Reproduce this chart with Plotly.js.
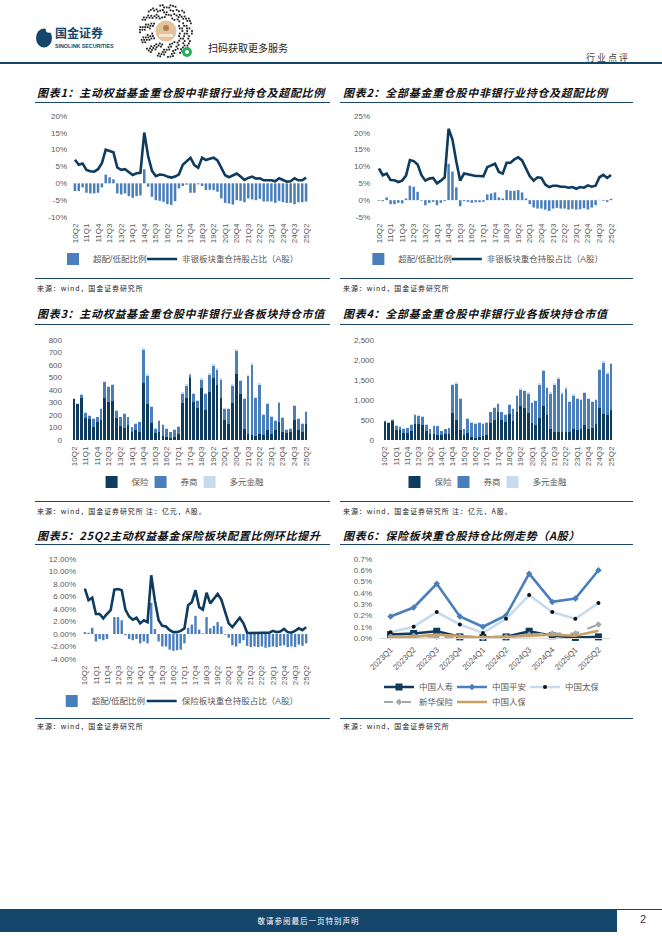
<!DOCTYPE html>
<html><head><meta charset="utf-8">
<script src="https://cdn.plot.ly/plotly-3.0.1.min.js"></script>
<style>
body{margin:0;background:#fff;}
#page{position:relative;width:662px;height:936px;overflow:hidden;background:#fff;font-family:"Noto Sans CJK SC",sans-serif;}
.abs{position:absolute;}
.ttl{position:absolute;font-size:11px;font-weight:bold;font-style:italic;color:#111;letter-spacing:0.7px;white-space:nowrap;line-height:14px;}
.rule{position:absolute;height:1px;background:#1d4567;}
.src{position:absolute;font-size:7px;color:#222;letter-spacing:0.9px;white-space:nowrap;line-height:9px;}
.chart{position:absolute;width:300px;height:170px;}
</style></head>
<body>
<div id="page">
  <svg id="hdr" class="abs" style="left:0;top:0" width="662" height="70"></svg>
  <div class="abs" style="left:208px;top:40px;font-size:10px;color:#222;white-space:nowrap;">扫码获取更多服务</div>
  <div class="abs" style="left:586px;top:51px;font-size:9px;color:#444;letter-spacing:2px;white-space:nowrap;">行业点评</div>
  <div class="abs" style="left:0;top:62px;width:662px;height:1.5px;background:#14466b;"></div>

  <div class="ttl" style="left:37px;top:85px;">图表1：主动权益基金重仓股中非银行业持仓及超配比例</div>
  <div class="ttl" style="left:343px;top:85px;">图表2：全部基金重仓股中非银行业持仓及超配比例</div>
  <div class="rule" style="left:35px;top:102px;width:295px;"></div>
  <div class="rule" style="left:340px;top:102px;width:293px;"></div>
  <div id="c1" class="chart" style="left:30px;top:105px;"></div>
  <div id="c2" class="chart" style="left:335px;top:105px;"></div>
  <div class="rule" style="left:35px;top:278px;width:295px;"></div>
  <div class="rule" style="left:340px;top:278px;width:293px;"></div>
  <div class="src" style="left:37px;top:284px;">来源：wind，国金证券研究所</div>
  <div class="src" style="left:343px;top:284px;">来源：wind，国金证券研究所</div>

  <div class="ttl" style="left:37px;top:306px;">图表3：主动权益基金重仓股中非银行业各板块持仓市值</div>
  <div class="ttl" style="left:343px;top:306px;">图表4：全部基金重仓股中非银行业各板块持仓市值</div>
  <div class="rule" style="left:35px;top:324px;width:295px;"></div>
  <div class="rule" style="left:340px;top:324px;width:293px;"></div>
  <div id="c3" class="chart" style="left:30px;top:330px;"></div>
  <div id="c4" class="chart" style="left:335px;top:330px;"></div>
  <div class="rule" style="left:35px;top:501px;width:295px;"></div>
  <div class="rule" style="left:340px;top:501px;width:293px;"></div>
  <div class="src" style="left:37px;top:507px;">来源：wind，国金证券研究所 注：亿元，A股。</div>
  <div class="src" style="left:343px;top:507px;">来源：wind，国金证券研究所 注：亿元，A股。</div>

  <div class="ttl" style="left:37px;top:528px;">图表5：25Q2主动权益基金保险板块配置比例环比提升</div>
  <div class="ttl" style="left:343px;top:528px;">图表6：保险板块重仓股持仓比例走势（A股）</div>
  <div class="rule" style="left:35px;top:544px;width:295px;"></div>
  <div class="rule" style="left:340px;top:544px;width:293px;"></div>
  <div id="c5" class="chart" style="left:30px;top:548px;"></div>
  <div id="c6" class="chart" style="left:335px;top:548px;"></div>
  <div class="rule" style="left:35px;top:718px;width:295px;"></div>
  <div class="rule" style="left:340px;top:718px;width:293px;"></div>
  <div class="src" style="left:37px;top:722px;">来源：wind，国金证券研究所</div>
  <div class="src" style="left:343px;top:722px;">来源：wind，国金证券研究所</div>

  <div class="abs" style="left:0;top:909px;width:617px;height:23px;background:#14466b;color:#fff;font-size:7.5px;letter-spacing:1px;text-align:center;line-height:23px;">敬请参阅最后一页特别声明</div>
  <div class="abs" style="left:617px;top:909px;width:45px;height:1px;background:#14466b;"></div>
  <div class="abs" style="left:640px;top:913px;font-size:11px;color:#333;font-family:'Liberation Sans',sans-serif;">2</div>
</div>
<script>
// ---------------- DATA ----------------
const quarters = ['10Q2','10Q3','10Q4',
 '11Q1','11Q2','11Q3','11Q4','12Q1','12Q2','12Q3','12Q4','13Q1','13Q2','13Q3','13Q4',
 '14Q1','14Q2','14Q3','14Q4','15Q1','15Q2','15Q3','15Q4','16Q1','16Q2','16Q3','16Q4',
 '17Q1','17Q2','17Q3','17Q4','18Q1','18Q2','18Q3','18Q4','19Q1','19Q2','19Q3','19Q4',
 '20Q1','20Q2','20Q3','20Q4','21Q1','21Q2','21Q3','21Q4','22Q1','22Q2','22Q3','22Q4',
 '23Q1','23Q2','23Q3','23Q4','24Q1','24Q2','24Q3','24Q4','25Q1','25Q2'];
const tickQuarters = ['10Q2','11Q1','11Q4','12Q3','13Q2','14Q1','14Q4','15Q3','16Q2','17Q1','17Q4',
 '18Q3','19Q2','20Q1','20Q4','21Q3','22Q2','23Q1','23Q4','24Q3','25Q2'];

// Chart 1 (%)
const c1Bar = [-2.3,-2.3,-1.2,-2.8,-3.0,-3.0,-2.8,-1.2,2.6,1.8,1.2,-3.0,-3.3,-3.0,-3.8,-4.3,-3.8,-3.6,4.2,-1.0,
 -4.0,-5.0,-5.2,-5.5,-6.2,-6.4,-5.3,-1.5,-0.8,-0.4,-2.8,-2.8,-0.3,-0.8,-2.0,-1.9,-2.0,-2.5,-4.5,-5.8,
 -6.0,-6.3,-5.0,-5.2,-5.6,-4.5,-4.8,-5.0,-4.6,-5.4,-5.4,-5.4,-5.8,-5.2,-5.6,-5.8,-5.8,-6.2,-5.6,-5.6,-5.4];
const c1Line = [7.0,5.5,5.9,4.0,3.6,3.5,4.2,6.0,10.0,9.5,9.2,4.7,4.0,4.2,3.4,2.5,3.0,3.1,15.1,8.1,
 3.7,2.1,2.6,2.5,2.0,1.7,2.0,2.7,5.5,6.6,7.6,5.4,4.6,7.6,6.9,7.3,7.6,6.8,4.8,2.4,
 1.8,2.3,2.9,2.0,1.0,1.6,2.0,1.4,1.5,0.9,1.0,0.9,0.6,1.5,1.0,0.5,0.6,1.5,0.9,0.9,1.7];
const c1TickVals = [-10,-5,0,5,10,15,20];
const c1TickText = ['-10%','-5%','0%','5%','10%','15%','20%'];

// Chart 2 (%)
const c2Bar = [-0.2,-0.3,0.8,-1.2,-1.2,-0.8,-1.0,0.5,4.3,4.0,2.5,-0.2,-1.5,-0.8,-0.5,-1.5,-0.8,-0.3,10.8,8.5,
 3.8,-1.8,-0.3,-0.5,-0.8,-0.6,-0.6,-0.5,1.7,2.0,2.3,0.8,0.5,3.0,2.8,2.8,3.0,2.3,0.5,-1.2,
 -2.2,-2.5,-2.5,-2.8,-3.2,-2.5,-2.3,-2.5,-2.5,-2.8,-2.6,-2.8,-2.7,-2.4,-2.8,-2.2,-1.5,0.1,-0.2,-0.5,0.4];
const c2Line = [9.4,7.4,7.9,6.0,5.9,5.4,5.8,7.3,11.9,11.6,10.6,7.4,5.8,6.4,6.6,5.0,5.8,6.8,21.2,18.0,
 11.5,5.8,7.9,7.6,7.3,7.2,7.2,7.1,9.8,10.3,10.8,8.4,7.9,11.1,11.1,12.1,12.7,11.8,9.6,7.1,
 5.8,6.8,6.6,4.6,3.9,4.3,4.3,4.0,4.0,3.7,3.9,3.4,3.9,3.7,4.4,4.0,4.3,6.8,7.5,6.6,7.5];
const c2TickVals = [-5,0,5,10,15,20,25];
const c2TickText = ['-5%','0%','5%','10%','15%','20%','25%'];

// Chart 3 (亿元): 保险 / 券商 / 多元金融
const c3Ins = [325,290,333,173,170,107,147,160,333,307,312,180,115,95,120,67,80,67,455,290,
 140,53,67,35,27,19,27,45,293,333,493,307,253,413,240,387,493,440,333,160,
 130,293,525,365,88,45,40,35,45,40,80,48,80,141,67,53,61,160,80,67,125];
const c3Brk = [7,0,25,40,25,60,34,92,134,120,125,53,66,110,61,35,47,74,266,225,
 128,35,85,82,60,43,52,62,78,102,30,58,59,70,125,136,102,123,150,85,
 122,142,191,105,237,465,561,302,398,160,205,139,72,158,112,30,27,112,86,60,99];
const c3Div = [8,3,7,8,5,6,6,7,8,8,8,7,6,8,6,5,6,6,12,10,
 7,5,8,8,6,5,6,8,10,10,10,8,8,10,8,10,10,10,10,8,
 8,10,12,10,8,10,12,10,10,8,8,8,8,8,8,5,5,8,7,6,8];

// Chart 4 (亿元)
const c4Ins = [442,417,475,250,250,167,167,225,392,400,375,233,142,142,125,125,142,142,667,500,
 250,125,180,83,58,83,108,125,417,500,708,500,442,650,475,692,850,792,667,417,
 375,558,858,625,275,192,208,208,208,208,275,250,275,375,275,292,400,808,642,625,750];
const c4Brk = [43,15,35,110,85,115,123,152,238,205,205,144,123,218,218,90,123,156,700,912,
 767,140,347,344,344,344,294,302,271,308,184,188,188,225,297,403,412,428,495,500,
 600,829,857,678,887,1195,1324,954,1079,750,837,767,717,803,742,666,592,932,1293,1032,1143];
const c4Div = [15,10,15,15,15,10,10,15,20,20,20,15,10,15,15,10,10,10,25,30,
 25,10,15,15,15,15,15,15,20,25,25,20,20,25,20,30,30,30,30,25,
 25,30,35,30,30,30,35,30,30,25,30,25,25,30,25,25,25,35,40,35,40];

// Chart 5 (%)
const c5Bar = [0.3,0.2,1.0,-1.2,-0.8,-1.0,-0.8,0.0,2.7,2.7,2.2,-0.2,-0.8,-1.0,-0.8,-1.5,-1.2,-1.5,5.0,0.8,
 -1.2,-2.0,-2.0,-2.5,-2.7,-2.6,-2.5,-1.5,1.0,1.5,2.9,0.7,0.1,2.7,0.9,1.3,1.9,1.2,-0.1,-0.6,
 -1.8,-2.0,-1.5,-1.0,-1.9,-2.1,-2.0,-2.1,-2.0,-2.2,-2.1,-2.0,-2.1,-1.9,-1.8,-2.1,-2.0,-2.1,-1.7,-1.9,-1.5];
const c5Line = [7.25,5.4,5.8,3.2,3.2,2.5,3.2,3.8,7.1,7.2,7.0,3.9,2.8,2.3,2.6,1.7,2.2,1.9,9.4,5.3,
 2.2,1.3,1.2,0.6,0.3,0.3,0.5,0.9,4.6,5.1,7.0,4.3,3.9,6.6,4.9,5.6,6.4,5.5,3.4,1.7,
 1.1,1.9,2.6,1.7,0.2,0.15,0.2,0.2,0.2,0.2,0.2,0.5,0.3,0.4,0.8,0.3,0.2,0.5,0.9,0.6,1.1];
const c5TickVals = [-4,-2,0,2,4,6,8,10,12];
const c5TickText = ['-4.00%','-2.00%','0.00%','2.00%','4.00%','6.00%','8.00%','10.00%','12.00%'];

// Chart 6 (%)
const periods = ['2023Q1','2023Q2','2023Q3','2023Q4','2024Q1','2024Q2','2024Q3','2024Q4','2025Q1','2025Q2'];
const chinaLife = [0.03,0.04,0.06,0.01,0.005,0.01,0.06,0.02,0.005,0.01];
const pingAn    = [0.19,0.27,0.48,0.19,0.10,0.20,0.57,0.32,0.35,0.60];
const cpic      = [0.05,0.10,0.23,0.12,0.045,0.17,0.38,0.23,0.17,0.31];
const newChina  = [0.01,0.02,0.01,0.01,0.00,0.01,0.03,0.04,0.04,0.12];
const picc      = [0.01,0.01,0.03,0.02,0.005,0.01,0.02,0.03,0.02,0.065];
const c6TickVals = [0,0.1,0.2,0.3,0.4,0.5,0.6,0.7];
const c6TickText = ['0.0%','0.1%','0.2%','0.3%','0.4%','0.5%','0.6%','0.7%'];

// ---------------- STYLE ----------------
const FONT = 'Liberation Sans, Arial, Noto Sans CJK SC, sans-serif';
const NAVY = '#0e3b5e', BLUE = '#4a7fbb', LIGHT = '#c6dbef', GREY = '#595959';
const cfg = {staticPlot:true, displayModeBar:false};
const H = 170;

function qAxis(){
  return {type:'category',categoryorder:'array',categoryarray:quarters,range:[-0.5,quarters.length-0.5],
    tickmode:'array',tickvals:tickQuarters,ticktext:tickQuarters,tickangle:-90,
    tickfont:{size:8,color:GREY,family:FONT},showgrid:false,zeroline:false,showline:false,ticks:'',
    ticklabelstandoff:4,fixedrange:true};
}
function yAxis(range, tv, tt, standoff){
  return {range:range,tickmode:'array',tickvals:tv,ticktext:tt,showgrid:false,zeroline:false,showline:false,
    ticks:'',tickfont:{size:8,color:GREY,family:FONT},ticklabelstandoff:standoff,fixedrange:true};
}
// legend placed in container coordinates (pixel row measured from chart top), so it never pushes margins
function leg(x, rowPx, extra){
  return Object.assign({orientation:'h',x:x,xanchor:'left',xref:'paper',y:1-rowPx/H,yref:'container',yanchor:'middle',
    traceorder:'normal',font:{size:8.5,color:GREY,family:FONT},itemwidth:30,bgcolor:'rgba(0,0,0,0)'}, extra||{});
}
function baseLayout(m){
  return {width:300,height:H,margin:m,paper_bgcolor:'rgba(0,0,0,0)',plot_bgcolor:'rgba(0,0,0,0)',
    font:{family:FONT,size:8,color:GREY},showlegend:true,xaxis:qAxis()};
}
function combo(id, bars, line, barName, lineName, m, yr, tv, tt, standoff, lx1, lx2, rowPx){
  const data = [
    {type:'bar',x:quarters,y:bars,name:barName,marker:{color:BLUE},legend:'legend'},
    {type:'scatter',mode:'lines',x:quarters,y:line,name:lineName,line:{color:NAVY,width:2.6},legend:'legend2'}
  ];
  const lay = baseLayout(m);
  lay.legend = leg(lx1, rowPx);
  lay.legend2 = leg(lx2, rowPx);
  lay.bargap = 0.35;
  lay.yaxis = yAxis(yr, tv, tt, standoff);
  Plotly.newPlot(id, data, lay, cfg);
}
function stacked(id, ins, brk, div, m, yr, dtick, standoff, lx, rowPx){
  const data = [
    {type:'bar',x:quarters,y:ins,name:'保险',marker:{color:NAVY},legendwidth:4},
    {type:'bar',x:quarters,y:brk,name:'券商',marker:{color:BLUE},legendwidth:4},
    {type:'bar',x:quarters,y:div,name:'多元金融',marker:{color:LIGHT}}
  ];
  const lay = baseLayout(m);
  lay.legend = leg(lx, rowPx);
  lay.barmode = 'stack';
  lay.bargap = 0.28;
  lay.yaxis = {range:yr,dtick:dtick,tick0:0,tickformat:',d',showgrid:false,zeroline:false,showline:false,
    ticks:'',tickfont:{size:8,color:GREY,family:FONT},ticklabelstandoff:standoff,fixedrange:true};
  Plotly.newPlot(id, data, lay, cfg);
}

combo('c1', c1Bar, c1Line, '超配/低配比例', '非银板块重仓持股占比（A股）',
  {l:43,r:22,t:11,b:58}, [-10,20], c1TickVals, c1TickText, 5, -0.085, 0.294, 154);
combo('c2', c2Bar, c2Line, '超配/低配比例', '非银板块重仓持股占比（A股）',
  {l:42,r:22,t:11,b:58}, [-5,25], c2TickVals, c2TickText, 6, -0.079, 0.296, 154);
stacked('c3', c3Ins, c3Brk, c3Div, {l:42,r:22,t:10,b:60}, [0,800], 100, 9, 0.083, 152);
stacked('c4', c4Ins, c4Brk, c4Div, {l:48,r:22,t:10,b:60}, [0,2500], 500, 8, 0.05, 152);
combo('c5', c5Bar, c5Line, '超配/低配比例', '保险板块重仓持股占比（A股）',
  {l:53,r:22,t:11,b:59}, [-4,12], c5TickVals, c5TickText, 6, -0.139, 0.261, 153);

// Chart 6
(function(){
  const m = {l:44,r:25,t:11,b:80};
  const data = [
    {type:'scatter',mode:'lines+markers',x:periods,y:chinaLife,name:'中国人寿',line:{color:NAVY,width:2.6},
      marker:{symbol:'square',size:7,color:NAVY},cliponaxis:false},
    {type:'scatter',mode:'lines+markers',x:periods,y:pingAn,name:'中国平安',line:{color:BLUE,width:2.6},
      marker:{symbol:'diamond',size:5,color:BLUE},cliponaxis:false},
    {type:'scatter',mode:'lines+markers',x:periods,y:cpic,name:'中国太保',line:{color:LIGHT,width:2.6},
      marker:{symbol:'circle',size:4,color:'#111'},cliponaxis:false},
    {type:'scatter',mode:'lines+markers',x:periods,y:newChina,name:'新华保险',legend:'legend2',
      line:{color:'#a6a6a6',width:2.2,dash:'dash'},marker:{symbol:'diamond',size:5,color:'#a6a6a6'},cliponaxis:false},
    {type:'scatter',mode:'lines',x:periods,y:picc,name:'中国人保',legend:'legend2',
      line:{color:'#c9a165',width:2.6},cliponaxis:false}
  ];
  const ext = {entrywidth:28,entrywidthmode:'pixels'};
  const lay = {width:300,height:H,margin:m,paper_bgcolor:'rgba(0,0,0,0)',plot_bgcolor:'rgba(0,0,0,0)',
    font:{family:FONT,size:8,color:GREY},showlegend:true,
    legend:leg(0.0, 139, ext), legend2:leg(0.0, 154, ext),
    xaxis:{type:'category',categoryorder:'array',categoryarray:periods,range:[-0.5,periods.length-0.5],
      tickangle:-45,tickfont:{size:8,color:GREY,family:FONT},showgrid:false,zeroline:false,
      showline:true,linecolor:'#d9d9d9',linewidth:1,ticks:'',ticklabelstandoff:3,fixedrange:true},
    yaxis:{range:[0,0.7],tickmode:'array',tickvals:c6TickVals,ticktext:c6TickText,showgrid:false,zeroline:false,
      showline:false,ticks:'',tickfont:{size:8,color:GREY,family:FONT},ticklabelstandoff:6,fixedrange:true}
  };
  Plotly.newPlot('c6', data, lay, cfg);
})();

// ---------------- HEADER DECORATION ----------------
(function(){
  const svg = document.getElementById('hdr');
  const NS = 'http://www.w3.org/2000/svg';
  function el(tag, attrs, text){
    const e = document.createElementNS(NS, tag);
    for (const k in attrs) e.setAttribute(k, attrs[k]);
    if (text) e.textContent = text;
    svg.appendChild(e); return e;
  }
  // logo
  el('ellipse',{cx:44,cy:38,rx:8,ry:9.5,fill:'#14466b'});
  el('circle',{cx:49,cy:29.5,r:3.2,fill:'#fff'});
  el('text',{x:55,y:38,'font-size':12,'font-weight':'bold',fill:'#14466b','font-family':'Noto Sans CJK SC'},'国金证券');
  el('text',{x:55,y:48,'font-size':5.3,'font-weight':'bold',fill:'#14466b','font-family':'Liberation Sans'},'SINOLINK SECURITIES');
  // mini-program code (decorative)
  const cx = 166, cy = 31;
  for (let ring = 0; ring < 6; ring++){
    const r = 14 + ring*2.4;
    const n = Math.round(2*Math.PI*r/2.6);
    for (let k = 0; k < n; k++){
      if (((k*7 + ring*5) % 9) < 4) continue;
      const a = 2*Math.PI*k/n;
      el('rect',{x:(cx + r*Math.cos(a) - 0.9).toFixed(2), y:(cy + r*Math.sin(a) - 0.9).toFixed(2), width:1.8, height:1.8, fill:'#222'});
    }
  }
  el('circle',{cx:cx,cy:cy,r:12,fill:'#fff'});
  el('circle',{cx:cx,cy:cy,r:10.5,fill:'#e2c39c'});
  el('circle',{cx:cx,cy:cy-3,r:3,fill:'#b0824f'});
  el('rect',{x:cx-7,y:cy+3,width:14,height:3,fill:'#f3e6d4'});
  el('circle',{cx:187,cy:52,r:5,fill:'#27ae60'});
  el('circle',{cx:187,cy:52,r:2,fill:'#fff'});
})();
</script>
</body></html>
